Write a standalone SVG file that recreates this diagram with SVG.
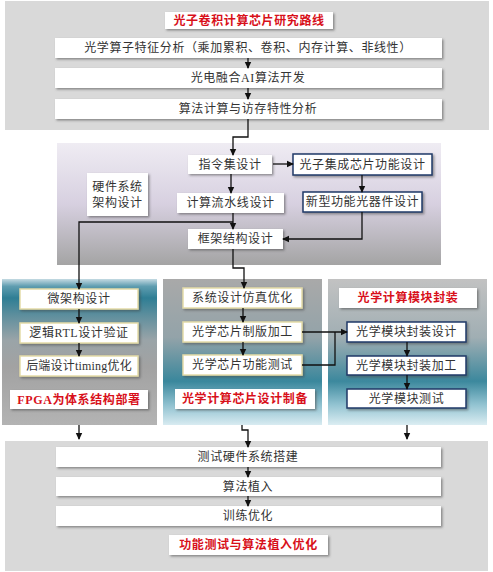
<svg xmlns="http://www.w3.org/2000/svg" width="493" height="572" viewBox="0 0 493 572">
<defs>
<filter id="sh" x="-10%" y="-20%" width="120%" height="160%">
<feDropShadow dx="1.5" dy="1.5" stdDeviation="0.8" flood-color="#444" flood-opacity="0.55"/>
</filter>
<marker id="ah" markerWidth="8" markerHeight="8" refX="6" refY="4" orient="auto" markerUnits="userSpaceOnUse">
<path d="M0,0.8 L7,4 L0,7.2 Z" fill="#111"/>
</marker>
<linearGradient id="gHw" x1="0" y1="0" x2="0" y2="1">
<stop offset="0" stop-color="#efecf3"/>
<stop offset="0.5" stop-color="#d7d0e0"/>
<stop offset="1" stop-color="#a4a4a4"/>
</linearGradient>
<linearGradient id="gL" x1="0" y1="0" x2="0" y2="1">
<stop offset="0" stop-color="#c4dae2"/>
<stop offset="0.05" stop-color="#5f9db0"/>
<stop offset="0.13" stop-color="#2f7e94"/>
<stop offset="0.26" stop-color="#62909e"/>
<stop offset="0.42" stop-color="#9aa4a8"/>
<stop offset="0.6" stop-color="#a2a2a2"/>
<stop offset="1" stop-color="#b3b3b3"/>
</linearGradient>
<linearGradient id="gM" x1="0" y1="0" x2="0" y2="1">
<stop offset="0" stop-color="#a9a9a9"/>
<stop offset="0.4" stop-color="#93a3a9"/>
<stop offset="0.7" stop-color="#3a879c"/>
<stop offset="0.86" stop-color="#8ec0cf"/>
<stop offset="1" stop-color="#d8ebf1"/>
</linearGradient>
<linearGradient id="gR" x1="0" y1="0" x2="0" y2="1">
<stop offset="0" stop-color="#c2c2c2"/>
<stop offset="0.4" stop-color="#a0aeb3"/>
<stop offset="0.7" stop-color="#3c889d"/>
<stop offset="0.86" stop-color="#92c3d1"/>
<stop offset="1" stop-color="#dbedf2"/>
</linearGradient>
</defs>
<style>
text{font-family:"Liberation Serif","Noto Sans CJK SC",serif;font-size:12px;fill:#333;text-anchor:middle;dominant-baseline:central;letter-spacing:0.6px}
.red{fill:#d8101a;font-weight:bold}
.bx{fill:#fff;filter:url(#sh)}
.bb{fill:#fff;stroke:#1f3a68;stroke-width:1.5;filter:url(#sh)}
.by{fill:#fff;stroke:#e4dba8;stroke-width:1.5;filter:url(#sh)}
.ln{fill:none;stroke:#111;stroke-width:1.3;marker-end:url(#ah)}
.pl{fill:none;stroke:#111;stroke-width:1.3}
</style>

<g id="panels">
<rect x="5" y="1" width="484" height="129" fill="#d9d9d9"/>
<rect x="57" y="143" width="384" height="122" fill="url(#gHw)"/>
<rect x="2" y="279" width="155" height="146" fill="url(#gL)"/>
<rect x="163" y="279" width="159" height="146" fill="url(#gM)"/>
<rect x="328" y="279" width="159" height="146" fill="url(#gR)"/>
<rect x="5" y="441" width="483" height="130" fill="#d9d9d9"/>
</g>

<g id="title"><rect class="bx" x="165" y="12" width="168" height="17"/><text class="red" x="249" y="20.5">光子卷积计算芯片研究路线</text></g>
<g id="n1"><rect class="bx" x="55" y="38" width="387" height="20"/><text x="248" y="48">光学算子特征分析（乘加累积、卷积、内存计算、非线性）</text></g>
<g id="n2"><rect class="bx" x="55" y="68" width="387" height="20"/><text x="248" y="78">光电融合AI算法开发</text></g>
<g id="n3"><rect class="bx" x="55" y="99" width="387" height="20"/><text x="248" y="109">算法计算与访存特性分析</text></g>

<g id="hwlabel"><rect class="bx" x="87" y="173" width="61" height="43"/><text x="117.5" y="187">硬件系统</text><text x="117.5" y="203">架构设计</text></g>
<g id="n4"><rect class="bx" x="188" y="155" width="84" height="19"/><text x="230" y="164.5">指令集设计</text></g>
<g id="n5"><rect class="bb" x="293" y="154" width="139" height="21"/><text x="362.5" y="164.5">光子集成芯片功能设计</text></g>
<g id="n6"><rect class="bx" x="177" y="193" width="107" height="20"/><text x="230.5" y="203">计算流水线设计</text></g>
<g id="n7"><rect class="bb" x="303" y="192" width="119" height="20"/><text x="362.5" y="202">新型功能光器件设计</text></g>
<g id="n8"><rect class="bx" x="188" y="229" width="95" height="20"/><text x="235.5" y="239">框架结构设计</text></g>

<g id="n9"><rect class="by" x="20" y="289" width="118" height="20"/><text x="79" y="299">微架构设计</text></g>
<g id="n10"><rect class="by" x="20" y="323" width="118" height="20"/><text x="79" y="333">逻辑RTL设计验证</text></g>
<g id="n11"><rect class="by" x="20" y="356" width="118" height="20"/><text x="79" y="366" style="letter-spacing:0.2px">后端设计timing优化</text></g>
<g id="lab1"><rect class="bx" x="10" y="390" width="138" height="19"/><text class="red" x="79" y="399.5">FPGA为体系结构部署</text></g>

<g id="n12"><rect class="by" x="183" y="288" width="119" height="20"/><text x="242.5" y="298">系统设计仿真优化</text></g>
<g id="n13"><rect class="by" x="183" y="322" width="119" height="20"/><text x="242.5" y="332">光学芯片制版加工</text></g>
<g id="n14"><rect class="by" x="183" y="355" width="119" height="20"/><text x="242.5" y="365">光学芯片功能测试</text></g>
<g id="lab2"><rect class="bx" x="175" y="389" width="140" height="20"/><text class="red" x="245" y="399">光学计算芯片设计制备</text></g>

<g id="lab3"><rect class="bx" x="339" y="288" width="138" height="20"/><text class="red" x="408" y="298">光学计算模块封装</text></g>
<g id="n15"><rect class="bb" x="347" y="322" width="119" height="20"/><text x="406.5" y="332">光学模块封装设计</text></g>
<g id="n16"><rect class="bb" x="347" y="356" width="119" height="19"/><text x="406.5" y="365.5">光学模块封装加工</text></g>
<g id="n17"><rect class="bb" x="347" y="389" width="119" height="19"/><text x="406.5" y="398.5">光学模块测试</text></g>

<g id="n18"><rect class="bx" x="56" y="447" width="385" height="20"/><text x="248" y="457">测试硬件系统搭建</text></g>
<g id="n19"><rect class="bx" x="56" y="477" width="385" height="19"/><text x="248" y="486.5">算法植入</text></g>
<g id="n20"><rect class="bx" x="56" y="506" width="385" height="20"/><text x="248" y="516">训练优化</text></g>
<g id="lab4"><rect class="bx" x="169" y="535" width="159" height="20"/><text class="red" x="248.5" y="545">功能测试与算法植入优化</text></g>

<g id="connectors">
<path class="ln" d="M248,58 V68"/>
<path class="ln" d="M248,88 V99"/>
<path class="ln" d="M248,119 V137 H233 V155"/>
<path class="ln" d="M273,164 H293"/>
<path class="ln" d="M231,174 V193"/>
<path class="ln" d="M362,175 V192"/>
<path class="ln" d="M233,213 V229"/>
<path class="ln" d="M233,222 H79 V289"/>
<path class="ln" d="M362,212 V239 H283"/>
<path class="ln" d="M233,249 V268 H244 V288"/>
<path class="ln" d="M79,309 V323"/>
<path class="ln" d="M79,343 V356"/>
<path class="ln" d="M243,308 V322"/>
<path class="ln" d="M243,342 V355"/>
<path class="ln" d="M302,332 H347"/>
<path class="pl" d="M302,365 H335 V332"/>
<path class="ln" d="M407,342 V356"/>
<path class="ln" d="M407,375 V389"/>
<path class="ln" d="M79,425 V439"/>
<path class="ln" d="M242,425 V430 H248 V447"/>
<path class="ln" d="M407,425 V439"/>
<path class="ln" d="M248,467 V477"/>
<path class="ln" d="M248,496 V506"/>
</g>
</svg>
